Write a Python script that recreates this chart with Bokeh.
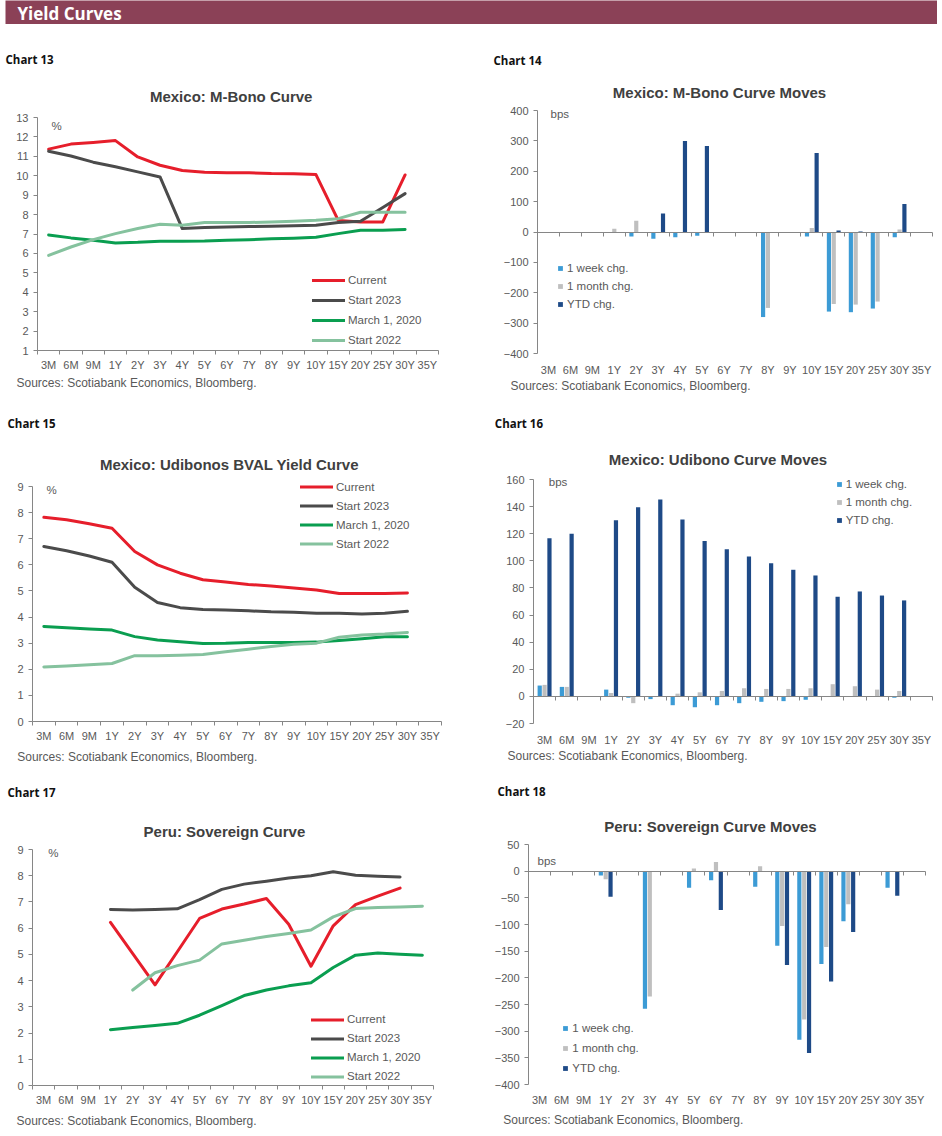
import numpy as np
from bokeh.plotting import figure
from bokeh.models import (Range1d, FixedTicker, LinearAxis, Label, Legend,
                          LegendItem, ColumnDataSource)
from bokeh.layouts import column, row
from bokeh.transform import dodge
from bokeh.embed import file_html
from bokeh.resources import INLINE

nan = np.nan

# ---------------- data ----------------
tenors = ["3M", "6M", "9M", "1Y", "2Y", "3Y", "4Y", "5Y", "6Y", "7Y", "8Y",
          "9Y", "10Y", "15Y", "20Y", "25Y", "30Y", "35Y"]

series_names = ["Current", "Start 2023", "March 1, 2020", "Start 2022"]
bar_names = ["1 week chg.", "1 month chg.", "YTD chg."]

# Chart 13 - Mexico M-Bono curve (%)
mbono_current = [11.37, 11.63, 11.71, 11.81, 10.97, 10.54, 10.27, 10.18, 10.16, 10.15,
                 10.11, 10.10, 10.06, 7.70, 7.62, 7.62, 10.04, nan]
mbono_start2023 = [11.26, 11.02, 10.70, 10.46, 10.20, 9.94, 7.28, 7.33, 7.36, 7.38,
                   7.40, 7.42, 7.45, 7.59, 7.66, 8.36, 9.08, nan]
mbono_mar2020 = [6.95, 6.80, 6.68, 6.54, 6.57, 6.63, 6.63, 6.64, 6.68, 6.71,
                 6.75, 6.78, 6.83, 7.02, 7.19, 7.19, 7.23, nan]
mbono_start2022 = [5.90, 6.33, 6.71, 7.02, 7.28, 7.50, 7.45, 7.59, 7.59, 7.59,
                   7.62, 7.66, 7.71, 7.79, 8.12, 8.12, 8.12, nan]

# Chart 14 - Mexico M-Bono curve moves (bps)
mbono_week = [nan, nan, nan, -1, -15, -22, -17, -12, nan, nan, -280, nan, -15, -262, -264, -252, -17, nan]
mbono_month = [nan, nan, nan, 11, 37, -2, -3, -2, nan, nan, -250, nan, 13, -237, -239, -229, 8, nan]
mbono_ytd = [nan, nan, nan, 0, 0, 61, 300, 283, nan, nan, 0, nan, 260, 5, 2, 0, 92, nan]

# Chart 15 - Mexico Udibonos BVAL yield curve (%)
udi_current = [7.82, 7.73, 7.57, 7.40, 6.51, 6.00, 5.68, 5.43, 5.34, 5.25,
               5.19, 5.11, 5.04, 4.90, 4.90, 4.90, 4.92, nan]
udi_start2023 = [6.70, 6.54, 6.34, 6.10, 5.14, 4.56, 4.36, 4.29, 4.27, 4.24,
                 4.20, 4.18, 4.15, 4.15, 4.12, 4.15, 4.22, nan]
udi_mar2020 = [3.64, 3.59, 3.54, 3.50, 3.25, 3.12, 3.05, 2.99, 3.00, 3.03,
               3.03, 3.03, 3.04, 3.10, 3.17, 3.25, 3.25, nan]
udi_start2022 = [2.09, 2.13, 2.17, 2.22, 2.52, 2.52, 2.54, 2.57, 2.67, 2.77,
                 2.87, 2.96, 3.00, 3.23, 3.31, 3.35, 3.41, nan]

# Chart 16 - Mexico Udibono curve moves (bps)
udi_week = [8, 7, nan, 5, -1, -2, -6.5, -8, -6.5, -5, -4, -3.5, -2.5, 0, 0, 0, -1, nan]
udi_month = [8.5, 7, nan, 2.5, -5, 0, 2, 3, 4, 6, 5.5, 5.5, 6, 9, 7.5, 5, 4, nan]
udi_ytd = [116.7, 120, nan, 130, 139.6, 145.2, 130.5, 114.7, 108.6, 103.2,
           98.3, 93.4, 89.2, 73.5, 77.4, 74.4, 70.8, nan]

# Chart 17 - Peru sovereign curve (%)
peru_current = [nan, nan, nan, 6.22, 5.03, 3.84, 5.10, 6.37, 6.73, 6.92,
                7.13, 6.15, 4.55, 6.09, 6.90, 7.22, 7.53, nan]
peru_start2023 = [nan, nan, nan, 6.71, 6.69, 6.71, 6.74, 7.09, 7.48, 7.68,
                  7.79, 7.91, 8.00, 8.15, 8.02, 7.98, 7.95, nan]
peru_mar2020 = [nan, nan, nan, 2.13, 2.21, 2.29, 2.37, 2.68, 3.05, 3.43,
                3.64, 3.80, 3.92, 4.50, 4.97, 5.05, 5.01, 4.97]
peru_start2022 = [nan, nan, nan, nan, 3.64, 4.30, 4.57, 4.78, 5.40, 5.54,
                  5.68, 5.80, 5.93, 6.43, 6.75, 6.79, 6.81, 6.84]

# Chart 18 - Peru sovereign curve moves (bps)
peru_week = [nan, nan, nan, -8, nan, -258, nan, -31, -17, nan, -29, -140, -316, -174, -94, nan, -31, nan]
peru_month = [nan, nan, nan, -15, nan, -235, nan, 5, 17, nan, 9, -103, -278, -142, -62, nan, 0, nan]
peru_ytd = [nan, nan, nan, -48, nan, nan, nan, nan, -73, nan, nan, -176, -341, -207, -114, nan, -46, nan]

# ---------------- styling ----------------
FONT = "Liberation Sans"
HFONT = "Open Sans"
TXT = "#595959"
AX = "#868686"
TTL = "#404040"
HDR = "#8B4157"
LINE_COLORS = ["#E61E2B", "#4B4B4B", "#0A9E50", "#85C29E"]
BAR_COLORS = ["#3C9BD5", "#BFBFBF", "#1E4A87"]
SOURCES = "Sources: Scotiabank Economics, Bloomberg."

COLW = 471
n = len(tenors)
pos = list(range(n))
bounds = [i - 0.5 for i in range(n + 1)]
labels_map = {i: t for i, t in enumerate(tenors)}


def lab(f, x, y, text, size, color, bold=False, align="left", font=FONT):
    f.add_layout(Label(x=x, y=y, x_units="screen", y_units="screen",
                       text=text, text_font=font, text_font_size=size, text_color=color,
                       text_font_style="bold" if bold else "normal",
                       text_align=align, text_baseline="middle"))


def style_labels(ax):
    ax.major_label_text_font = FONT
    ax.major_label_text_font_size = "11px"
    ax.major_label_text_color = TXT


def cell(kind, col_left, row_top, H, frame, y0, y1, ystep, data,
         chart_no, title, unit, tpos, leg, standoff):
    """frame / tpos / leg are given in page pixels; converted to this cell's canvas."""
    fl, ft, fw, fh = frame
    fl -= col_left
    ft -= row_top
    sx = fw / n
    xs = -0.5 - fl / sx
    xe = xs + COLW / sx
    k = fh / (y1 - y0)
    ytop = y1 + ft / k
    ybot = y0 - (H - ft - fh) / k

    p = figure(width=COLW, height=H, output_backend="svg", toolbar_location=None,
               x_range=Range1d(xs, xe), y_range=Range1d(ybot, ytop),
               x_axis_location=None, y_axis_location=None, min_border=0)
    p.outline_line_color = None
    p.xgrid.visible = False
    p.ygrid.visible = False
    p.background_fill_color = "white"
    p.border_fill_color = "white"

    ya = LinearAxis(fixed_location=-0.5, bounds=(y0, y1),
                    ticker=FixedTicker(ticks=list(range(y0, y1 + 1, ystep))))
    ya.axis_line_color = AX
    ya.major_tick_line_color = AX
    ya.major_tick_out = 4
    ya.major_tick_in = 0
    ya.minor_tick_line_color = None
    ya.major_label_standoff = 5
    style_labels(ya)
    p.add_layout(ya, "left")

    xa = LinearAxis(fixed_location=y0, bounds=(-0.5, n - 0.5),
                    ticker=FixedTicker(ticks=pos, minor_ticks=bounds))
    xa.major_label_overrides = labels_map
    xa.major_tick_line_color = None
    xa.major_tick_out = 0
    xa.major_tick_in = 0
    xa.major_label_standoff = standoff
    style_labels(xa)

    def loc(px, py):
        return px - col_left, H - (py - row_top)

    if kind == "line":
        xa.axis_line_color = AX
        xa.minor_tick_line_color = AX
        xa.minor_tick_out = 4
        xa.minor_tick_in = 0
        p.add_layout(xa, "below")
        rends = []
        for vals, color in zip(data, LINE_COLORS):
            src = ColumnDataSource(dict(x=pos, y=np.array(vals, dtype=float)))
            rends.append(p.line("x", "y", source=src, line_width=3, line_color=color,
                                line_join="round", line_cap="round"))
        labels, gw, gap = series_names, 33, 3
    else:
        xa.axis_line_color = None
        xa.minor_tick_line_color = None
        p.add_layout(xa, "below")
        za = LinearAxis(fixed_location=0, bounds=(-0.5, n - 0.5),
                        ticker=FixedTicker(ticks=[], minor_ticks=bounds))
        za.axis_line_color = AX
        za.major_tick_line_color = None
        za.major_tick_out = 0
        za.major_label_standoff = 0
        za.minor_tick_line_color = AX
        za.minor_tick_out = 4
        za.minor_tick_in = 0
        za.major_label_text_font_size = "0px"
        src = ColumnDataSource(dict(x=pos, w=np.array(data[0], dtype=float),
                                    m=np.array(data[1], dtype=float),
                                    y=np.array(data[2], dtype=float)))
        rends = []
        for col, off, color in zip(["w", "m", "y"], [-0.22, 0.0, 0.22], BAR_COLORS):
            p.vbar(x=dodge("x", off), top=col, bottom=0, width=0.19, source=src,
                   fill_color=color, line_color=None)
            rends.append(p.scatter(x=dodge("x", off), y=col, source=src, size=0,
                                   marker="square", fill_color=color, line_color=None))
        p.add_layout(za, "below")
        labels, gw, gap = bar_names, 12, 1

    lx, ltop, rowh = leg
    lxl, lyl = loc(lx, ltop + len(labels) * rowh)
    p.add_layout(Legend(items=[LegendItem(label=l, renderers=[r]) for l, r in zip(labels, rends)],
                        location=(lxl, lyl), orientation="vertical",
                        border_line_color=None, background_fill_alpha=0,
                        padding=0, margin=0, spacing=0, glyph_width=gw, glyph_height=rowh,
                        label_height=rowh, label_standoff=gap, label_text_font=FONT,
                        label_text_font_size="11.5px", label_text_color=TXT))

    (cx, cy), (tx, ty), (ux, uy), (qx, qy) = tpos
    lab(p, *loc(cx, cy), chart_no, "11.5px", "#111111", bold=True, font=HFONT)
    lab(p, *loc(tx, ty), title, "15px", TTL, bold=True, align="center")
    lab(p, *loc(ux, uy), unit, "11.5px", TXT)
    lab(p, *loc(qx, qy), SOURCES, "12px", TXT)
    return p


R1, R2, R3 = 24, 405, 772
H1, H2, H3 = 381, 367, 360

c13 = cell("line", 0, R1, H1, (37, 117, 401, 233), 1, 13, 1,
           [mbono_current, mbono_start2023, mbono_mar2020, mbono_start2022],
           "Chart 13", "Mexico: M-Bono Curve", "%",
           [(5, 59), (230.7, 95.5), (51, 125.7), (16, 382)], (312, 270, 20), 4)

c14 = cell("bar", COLW, R1, H1, (537, 110, 395, 243), -400, 400, 100,
           [mbono_week, mbono_month, mbono_ytd],
           "Chart 14", "Mexico: M-Bono Curve Moves", "bps",
           [(493, 60), (719, 91.7), (550, 113.3), (510, 385)], (554, 259, 18), 6)

c15 = cell("line", 0, R2, H2, (32, 486, 409, 235), 0, 9, 1,
           [udi_current, udi_start2023, udi_mar2020, udi_start2022],
           "Chart 15", "Mexico: Udibonos BVAL Yield Curve", "%",
           [(7, 423), (229, 464), (46, 489), (16.7, 756.7)], (300, 477, 19), 4)

c16 = cell("bar", COLW, R2, H2, (533, 479, 399, 244), -20, 160, 20,
           [udi_week, udi_month, udi_ytd],
           "Chart 16", "Mexico: Udibono Curve Moves", "bps",
           [(494.3, 423.3), (717.5, 459.3), (548.3, 481.7), (507, 755)], (832.7, 475, 18), 6)

c17 = cell("line", 0, R3, H3, (32, 849, 401, 236), 0, 9, 1,
           [peru_current, peru_start2023, peru_mar2020, peru_start2022],
           "Chart 17", "Peru:  Sovereign Curve", "%",
           [(7, 791.7), (226, 830.7), (47.7, 852.3), (16, 1120.7)], (311, 1009.5, 19), 4)

c18 = cell("bar", COLW, R3, H3, (528, 844, 397, 240), -400, 50, 50,
           [peru_week, peru_month, peru_ytd],
           "Chart 18", "Peru:  Sovereign Curve Moves", "bps",
           [(497, 790.7), (712, 825.7), (537, 860.7), (502.7, 1119.3)], (559.3, 1018.3, 20), 5)

hdr = figure(width=932, height=24, output_backend="svg", toolbar_location=None,
             x_range=Range1d(0, 1), y_range=Range1d(0, 1),
             x_axis_location=None, y_axis_location=None, min_border=0,
             margin=(0, 5, 0, 5))
hdr.xgrid.visible = False
hdr.ygrid.visible = False
hdr.outline_line_color = None
hdr.background_fill_color = HDR
hdr.border_fill_color = HDR
hdr.add_layout(Label(x=12, y=11, x_units="screen", y_units="screen", text="Yield Curves",
                     text_color="white", text_font=HFONT, text_font_style="bold",
                     text_font_size="17px", text_baseline="middle"))

layout = column(hdr, row(c13, c14, spacing=0), row(c15, c16, spacing=0),
                row(c17, c18, spacing=0), spacing=0)

open("out.html", "w").write(file_html(layout, INLINE))
